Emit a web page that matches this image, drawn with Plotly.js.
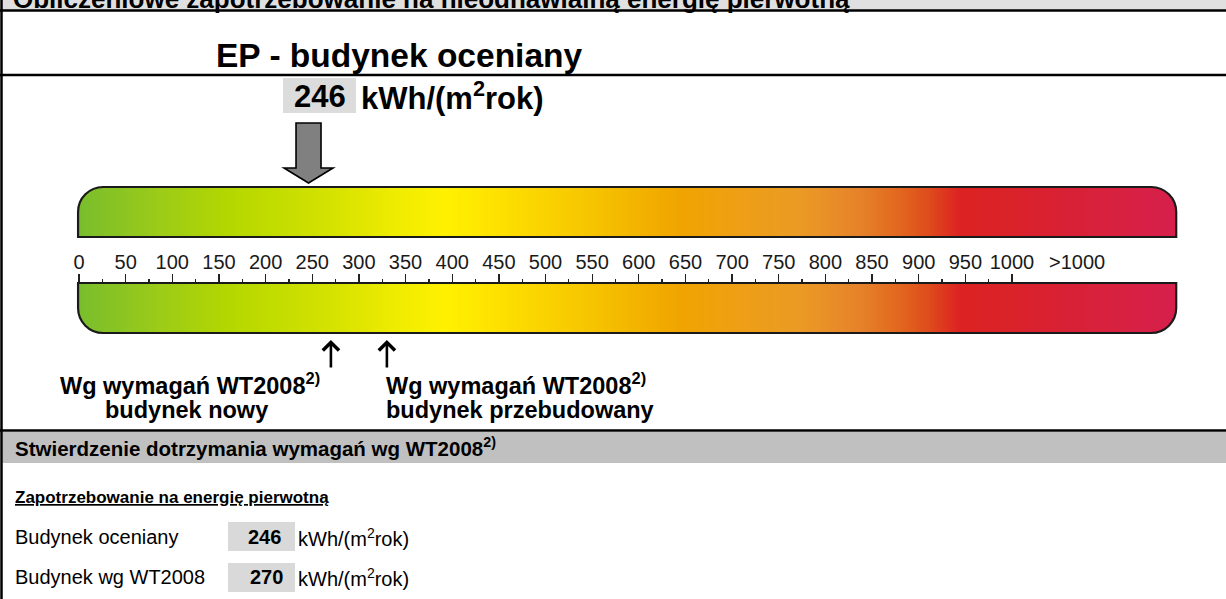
<!DOCTYPE html>
<html><head><meta charset="utf-8">
<script src="https://cdn.plot.ly/plotly-3.0.1.min.js"></script>
<style>html,body{margin:0;padding:0;background:#fff;overflow:hidden}#chart{width:1226px;height:599px}</style>
</head><body><div id="chart"></div>
<script>
// ---------------- data ----------------
const tickValues = [0,50,100,150,200,250,300,350,400,450,500,550,600,650,700,750,800,850,900,950,1000];
const tickLabels = ['0','50','100','150','200','250','300','350','400','450','500','550','600','650','700','750','800','850','900','950','1000'];
const minorTickValues = [25,75,125,175,225,275,325,375,425,475,525,575,625,675,725,775,825,875,925,975];
const overflowValue = 1070;
const overflowLabel = '>1000';
const scaleStart = -1;
const scaleEnd = 1176;
const epAssessed = 246;      // EP budynek oceniany
const epWtNew = 270;         // WT2008 budynek nowy
const epWtRebuilt = 330;     // WT2008 budynek przebudowany
const epWtReference = 270;   // Budynek wg WT2008
const unitText = 'kWh/(m<sup>2</sup>rok)';

// ---------------- style ----------------
const W = 1226, H = 599;
const FONT = 'Liberation Sans, Arial, Helvetica, sans-serif';
const PX0 = 79, K = 0.933;   // pixel of value 0, pixels per unit
const bandColors = [
  [0.000,'#79bd2d'],[0.075,'#9ccb18'],[0.138,'#b4d700'],[0.229,'#d4e200'],
  [0.293,'#f0ec00'],[0.334,'#fff100'],[0.403,'#fcda00'],[0.466,'#f6c500'],
  [0.548,'#f0a400'],[0.603,'#ee9f16'],[0.657,'#eb9a24'],[0.712,'#e6822a'],
  [0.749,'#e2661e'],[0.776,'#de4a1c'],[0.803,'#dc2222'],[0.840,'#da2228'],[1.000,'#d6204c']
];

// gradient band cells (colour scale across the scale extent)
const nCells = 588;
const edges = [], centers = [];
for (let i = 0; i <= nCells; i++) edges.push(scaleStart + i * (scaleEnd - scaleStart) / nCells);
for (let i = 0; i < nCells; i++) centers.push((edges[i] + edges[i+1]) / 2);

const topBar = [187, 237], botBar = [283, 333];

function band(yr) {
  return {type:'heatmap', x: edges, y: yr, z: [centers], colorscale: bandColors,
          zmin: scaleStart, zmax: scaleEnd, showscale:false, hoverinfo:'skip', xaxis:'x', yaxis:'y'};
}

const rX = 25 / K, rY = 25, kap = 0.5523;
const sx = scaleStart, ex = scaleEnd;
function topOutline(T, B) {
  return `M${sx},${B} L${sx},${T+rY} C${sx},${T+rY-kap*rY} ${sx+rX-kap*rX},${T} ${sx+rX},${T} ` +
         `L${ex-rX},${T} C${ex-rX+kap*rX},${T} ${ex},${T+rY-kap*rY} ${ex},${T+rY} L${ex},${B} Z`;
}
function botOutline(T, B) {
  return `M${sx},${T} L${ex},${T} L${ex},${B-rY} C${ex},${B-rY+kap*rY} ${ex-rX+kap*rX},${B} ${ex-rX},${B} ` +
         `L${sx+rX},${B} C${sx+rX-kap*rX},${B} ${sx},${B-rY+kap*rY} ${sx},${B-rY} Z`;
}
function masks(T) {
  return [
    `M${sx-3},${T-2} L${sx+rX},${T-2} L${sx+rX},${T} C${sx+rX-kap*rX},${T} ${sx},${T+rY-kap*rY} ${sx},${T+rY} L${sx-3},${T+rY} Z`,
    `M${ex+3},${T-2} L${ex-rX},${T-2} L${ex-rX},${T} C${ex-rX+kap*rX},${T} ${ex},${T+rY-kap*rY} ${ex},${T+rY} L${ex+3},${T+rY} Z`
  ];
}
function masksBottom(B) {
  return [
    `M${sx-3},${B+2} L${sx+rX},${B+2} L${sx+rX},${B} C${sx+rX-kap*rX},${B} ${sx},${B-rY+kap*rY} ${sx},${B-rY} L${sx-3},${B-rY} Z`,
    `M${ex+3},${B+2} L${ex-rX},${B+2} L${ex-rX},${B} C${ex-rX+kap*rX},${B} ${ex},${B-rY+kap*rY} ${ex},${B-rY} L${ex+3},${B-rY} Z`
  ];
}

// EP arrow (block arrow pointing down at the assessed value)
const aw = 12.5 / K, hw = 24.5 / K;
const arrowPath = `M${epAssessed-aw},123 L${epAssessed+aw},123 L${epAssessed+aw},168 L${epAssessed+hw},168 ` +
                  `L${epAssessed},183 L${epAssessed-hw},168 L${epAssessed-aw},168 Z`;

const shapes = [];
// header band + frame lines
shapes.push({type:'rect', xref:'x2', yref:'y', x0:2, x1:W, y0:-5, y1:10, fillcolor:'#e0e0e0', line:{width:0}, layer:'below'});
shapes.push({type:'line', xref:'x2', yref:'y', x0:0, x1:W, y0:10.5, y1:10.5, line:{color:'#000', width:2.5}});
shapes.push({type:'line', xref:'x2', yref:'y', x0:1.5, x1:1.5, y0:0, y1:H, line:{color:'#000', width:2.5}});
shapes.push({type:'line', xref:'x2', yref:'y', x0:0, x1:W, y0:75, y1:75, line:{color:'#000', width:2.5}});
// grey box behind EP value
shapes.push({type:'rect', xref:'x2', yref:'y', x0:283, x1:356, y0:78, y1:113, fillcolor:'#dcdcdc', line:{width:0}, layer:'below'});
// arrow
shapes.push({type:'path', xref:'x', yref:'y', path: arrowPath, fillcolor:'#808080', line:{color:'#000', width:1.6}, layer:'above'});
// bar masks + outlines
masks(topBar[0]).concat(masksBottom(botBar[1])).forEach(p =>
  shapes.push({type:'path', xref:'x', yref:'y', path:p, fillcolor:'#fff', line:{width:0}, layer:'above'}));
shapes.push({type:'path', xref:'x', yref:'y', path: topOutline(topBar[0], topBar[1]), line:{color:'#1a1a1a', width:2.2}, layer:'above'});
shapes.push({type:'path', xref:'x', yref:'y', path: botOutline(botBar[0], botBar[1]), line:{color:'#1a1a1a', width:2.2}, layer:'above'});
// section band
shapes.push({type:'line', xref:'x2', yref:'y', x0:0, x1:W, y0:430.5, y1:430.5, line:{color:'#000', width:2.5}});
shapes.push({type:'rect', xref:'x2', yref:'y', x0:2.5, x1:W, y0:432, y1:463, fillcolor:'#c0c0c0', line:{width:0}, layer:'below'});
// value boxes
shapes.push({type:'rect', xref:'x2', yref:'y', x0:228, x1:295, y0:522, y1:551, fillcolor:'#d9d9d9', line:{width:0}, layer:'below'});
shapes.push({type:'rect', xref:'x2', yref:'y', x0:228, x1:295, y0:563, y1:592, fillcolor:'#d9d9d9', line:{width:0}, layer:'below'});

function txt(x, y, text, size, opts) {
  return Object.assign({xref:'x2', yref:'y', x, y, text, showarrow:false, xanchor:'left', yanchor:'middle', borderpad:0,
    font:{family:FONT, size, color:'#000', weight: 'normal'}}, opts || {});
}
function bold(x, y, text, size, opts) {
  const a = txt(x, y, text, size, opts); a.font.weight = 'bold'; return a;
}

const annotations = [
  {xref:'x2', yref:'paper', x:11, y: 1 + 1.5 / H, text:'Obliczeniowe zapotrzebowanie na nieodnawialną energię pierwotną',
   showarrow:false, xanchor:'left', yanchor:'middle', font:{family:FONT, size:26, color:'#000', weight:'bold'}},
  bold(215, 55, 'EP - budynek oceniany', 33.5),
  bold(319.5, 96, String(epAssessed), 31, {xanchor:'center'}),
  bold(360, 96, unitText, 31),
  // overflow label of the scale
  {xref:'x', yref:'y', x: overflowValue, y: 262, text: overflowLabel, showarrow:false, xanchor:'center', yanchor:'middle',
   font:{family:FONT, size:20, color:'#1a1a1a'}},
  // requirement markers
  {xref:'x', yref:'y', x: epWtNew, y: 340, ax:0, ay:29, text:'', showarrow:true, arrowhead:4, arrowsize:1.2, arrowwidth:2.6, arrowcolor:'#000', standoff:0},
  {xref:'x', yref:'y', x: epWtRebuilt, y: 340, ax:0, ay:29, text:'', showarrow:true, arrowhead:4, arrowsize:1.2, arrowwidth:2.6, arrowcolor:'#000', standoff:0},
  bold(190, 384, 'Wg wymagań WT2008<sup>2)</sup>', 23.5, {xanchor:'center'}),
  bold(186, 410, 'budynek nowy', 23.5, {xanchor:'center'}),
  bold(385, 384, 'Wg wymagań WT2008<sup>2)</sup>', 23.5),
  bold(385, 410, 'budynek przebudowany', 23.5),
  bold(14, 447, 'Stwierdzenie dotrzymania wymagań wg WT2008<sup>2)</sup>', 20.5),
  bold(14, 497, '<span style="text-decoration:underline">Zapotrzebowanie na energię pierwotną</span>', 17),
  txt(14, 537, 'Budynek oceniany', 20),
  bold(247, 537, String(epAssessed), 20),
  txt(297, 537, unitText, 20),
  txt(14, 577, 'Budynek wg WT2008', 20),
  bold(249, 577, String(epWtReference), 20),
  txt(297, 577, unitText, 20)
];

const data = [
  band(topBar), band(botBar),
  {type:'scatter', x:[], y:[], xaxis:'x2', yaxis:'y', hoverinfo:'skip', showlegend:false}
];

const layout = {
  width: W, height: H, margin:{l:0, r:0, t:0, b:0, pad:0},
  paper_bgcolor:'#fff', plot_bgcolor:'rgba(0,0,0,0)', showlegend:false,
  xaxis: {range:[-PX0/K, (W-PX0)/K], anchor:'free', position: 1 - 283/H, side:'top',
    tickmode:'array', tickvals: tickValues, ticktext: tickLabels,
    ticks:'outside', ticklen:9, tickwidth:1.3, tickcolor:'#222', ticklabelstandoff:-3,
    showline:false, showgrid:false, zeroline:false, fixedrange:true,
    tickfont:{family:FONT, size:20, color:'#1a1a1a'},
    minor:{tickmode:'array', tickvals: minorTickValues, ticks:'outside', ticklen:4, tickwidth:1.3, tickcolor:'#222', showgrid:false}},
  xaxis2: {overlaying:'x', anchor:'y', range:[0, W], visible:false, fixedrange:true},
  yaxis: {range:[H, 0], visible:false, fixedrange:true},
  shapes, annotations
};

Plotly.newPlot('chart', data, layout, {staticPlot:true, displayModeBar:false});
</script></body></html>
